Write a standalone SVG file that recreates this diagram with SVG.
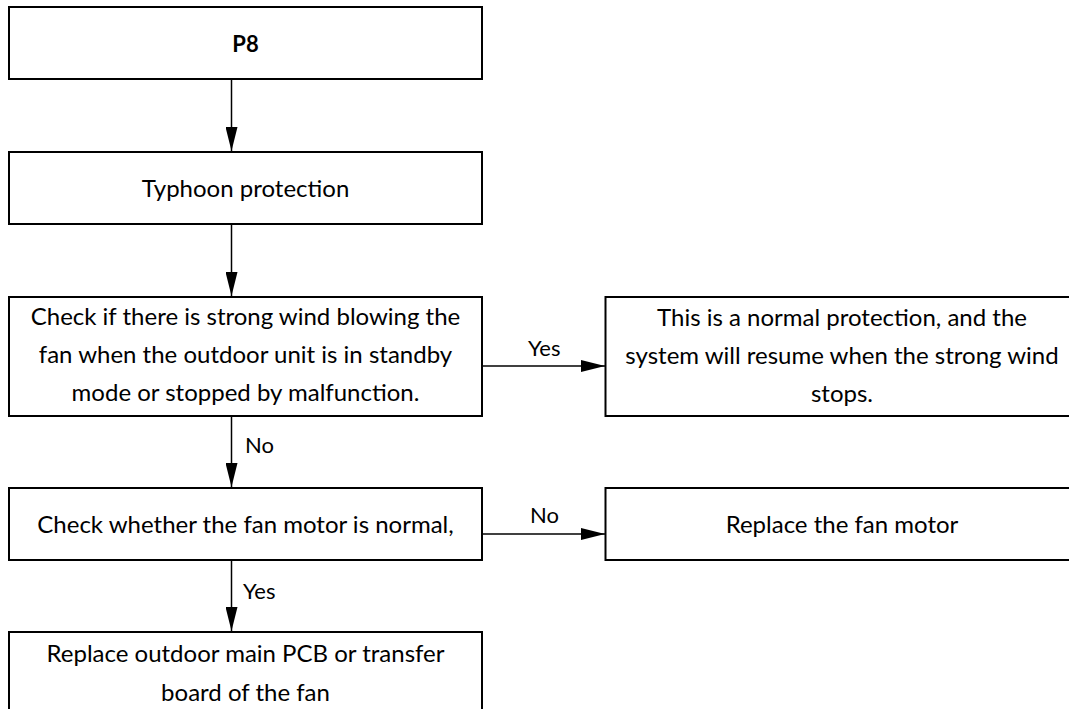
<svg xmlns="http://www.w3.org/2000/svg" width="1069" height="709" viewBox="0 0 1069 709">
<defs>
<style>
.box{fill:#fff;stroke:#000;stroke-width:2}
.t{font-family:Lato,"Open Sans","Liberation Sans",sans-serif;font-size:24px;fill:#000;text-anchor:middle}
.b{font-weight:bold;font-size:22px}
.l{font-family:Lato,"Open Sans","Liberation Sans",sans-serif;font-size:22px;fill:#000}
.c{stroke:#000;stroke-width:1.5;fill:none;marker-end:url(#ah)}
</style>
<marker id="ah" markerUnits="userSpaceOnUse" markerWidth="24" markerHeight="12" refX="24" refY="6" orient="auto">
<path d="M0,0 L24,6 L0,12 z" fill="#000"/>
</marker>
</defs>
<rect width="1069" height="709" fill="#fff"/>
<g id="connectors">
<line class="c" x1="231.5" y1="79" x2="231.5" y2="151"/>
<line class="c" x1="231.5" y1="224" x2="231.5" y2="296"/>
<line class="c" x1="482" y1="366" x2="605" y2="366"/>
<line class="c" x1="231.5" y1="416" x2="231.5" y2="487"/>
<line class="c" x1="482" y1="534" x2="605" y2="534"/>
<line class="c" x1="231.5" y1="560" x2="231.5" y2="631"/>
<text class="l" x="528" y="356">Yes</text>
<text class="l" x="245" y="453">No</text>
<text class="l" x="530" y="523">No</text>
<text class="l" x="243" y="599">Yes</text>
</g>
<g id="n1">
<rect class="box" x="9" y="7" width="473" height="72"/>
<text class="t b" x="245.5" y="52">P8</text>
</g>
<g id="n2">
<rect class="box" x="9" y="152" width="473" height="72"/>
<text class="t" x="245.5" y="197">Typhoon protection</text>
</g>
<g id="n3">
<rect class="box" x="9" y="297" width="473" height="119"/>
<text class="t" x="245.5" y="325">Check if there is strong wind blowing the</text>
<text class="t" x="245.5" y="363">fan when the outdoor unit is in standby</text>
<text class="t" x="245.5" y="401">mode or stopped by malfunction.</text>
</g>
<g id="n4">
<rect class="box" x="605.5" y="297" width="474" height="119"/>
<text class="t" x="842" y="326">This is a normal protection, and the</text>
<text class="t" x="842" y="364">system will resume when the strong wind</text>
<text class="t" x="842" y="402">stops.</text>
</g>
<g id="n5">
<rect class="box" x="9" y="488" width="473" height="72"/>
<text class="t" x="245.5" y="533">Check whether the fan motor is normal,</text>
</g>
<g id="n6">
<rect class="box" x="605.5" y="488" width="474" height="72"/>
<text class="t" x="842" y="533">Replace the fan motor</text>
</g>
<g id="n7">
<rect class="box" x="9" y="632" width="473" height="90"/>
<text class="t" x="245.5" y="662">Replace outdoor main PCB or transfer</text>
<text class="t" x="245.5" y="701">board of the fan</text>
</g>
</svg>
